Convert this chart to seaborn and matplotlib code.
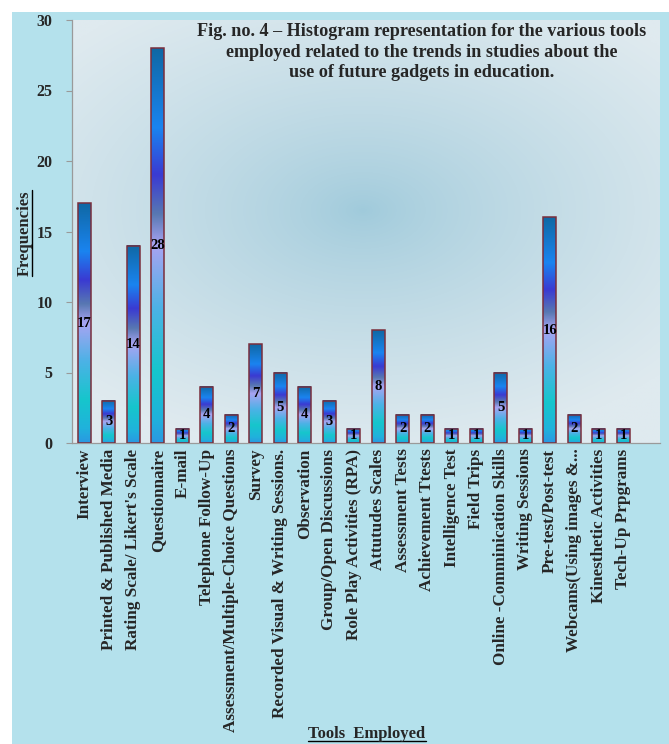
import numpy as np
import pandas as pd
import matplotlib
matplotlib.use("Agg")
import matplotlib.pyplot as plt
from matplotlib.colors import LinearSegmentedColormap, to_rgb
from matplotlib.lines import Line2D
from matplotlib.patches import Rectangle
import seaborn as sns

# ---- data -------------------------------------------------------------
tools = [
    "Interview",
    "Printed & Published Media",
    "Rating Scale/ Likert's Scale",
    "Questionnaire",
    "E-mail",
    "Telephone Follow-Up",
    "Assessment/Multiple-Choice Questions",
    "Survey",
    "Recorded Visual & Writing Sessions.",
    "Observation",
    "Group/Open Discussions",
    "Role Play Activities (RPA)",
    "Attutudes Scales",
    "Assessment Tests",
    "Achievement Ttests",
    "Intelligence Test",
    "Field Trips",
    "Online -Comminication Skills",
    "Writing Sessions",
    "Pre-test/Post-test",
    "Webcams(Using images &...",
    "Kinesthetic Activities",
    "Tech-Up Prpgrams",
]
frequencies = [17, 3, 14, 28, 1, 4, 2, 7, 5, 4, 3, 1, 8, 2, 2, 1, 1, 5, 1, 16, 2, 1, 1]
y_ticks = [0, 5, 10, 15, 20, 25, 30]

title = ("Fig. no. 4 \u2013 Histogram representation for the various tools\n"
         "employed related to the trends in studies about the\n"
         "use of future gadgets in education.")

df = pd.DataFrame({"tool": tools, "freq": frequencies})

# ---- style ------------------------------------------------------------
sns.set_style("white")
plt.rcParams["font.family"] = ["Liberation Serif", "DejaVu Serif"]
plt.rcParams["font.weight"] = "bold"

fig = plt.figure(figsize=(6.69, 7.44), dpi=100, facecolor="white")

# page backdrop behind the chart
backdrop = Rectangle((12 / 669, 0), 1 - 12 / 669, 732 / 744,
                     transform=fig.transFigure, facecolor="#b4e1ec",
                     edgecolor="none", zorder=-10)
fig.add_artist(backdrop)

ax = fig.add_axes([72 / 669, 1 - 443 / 744, 588 / 669, 423 / 744])
ax.set_zorder(1)
ax.set_facecolor("none")

# radial glow in the plot area
gy, gx = np.mgrid[0:1:300j, 0:1:300j]
r = np.sqrt(((gx - 0.495) / 1.0) ** 2 + ((gy - 0.55) / 0.85) ** 2)
t = np.clip(r / 0.68, 0, 1) ** 0.75
c_in = np.array(to_rgb("#9fcadb"))
c_out = np.array(to_rgb("#dfeaef"))
glow = c_in[None, None, :] * (1 - t[..., None]) + c_out[None, None, :] * t[..., None]
ax.imshow(glow, extent=[0, 1, 0, 1], transform=ax.transAxes, origin="lower",
          aspect="auto", zorder=0, interpolation="bilinear")

# bar outlines via seaborn
sns.barplot(data=df, x="tool", y="freq", order=tools, ax=ax, width=0.53,
            facecolor=(0, 0, 0, 0), edgecolor="#7a2e3c", linewidth=1.1,
            errorbar=None, zorder=3)

# vertical gradient fill inside each bar
bar_cmap = LinearSegmentedColormap.from_list("bar", [
    (0.00, "#2a98e2"),
    (0.06, "#20b2dc"),
    (0.18, "#16c6cc"),
    (0.34, "#4cb2e6"),
    (0.50, "#a8a4f2"),
    (0.58, "#5878b2"),
    (0.68, "#3a3ad2"),
    (0.80, "#1a84f0"),
    (1.00, "#0f68a4"),
])
grad = np.linspace(0, 1, 256)[:, None]
for patch in list(ax.patches):
    x0, y0 = patch.get_x(), patch.get_y()
    w, h = patch.get_width(), patch.get_height()
    if h <= 0:
        continue
    ax.imshow(grad, cmap=bar_cmap, extent=[x0, x0 + w, y0, y0 + h],
              origin="lower", aspect="auto", zorder=2, interpolation="bilinear")

# value labels at mid-height
for i, v in enumerate(frequencies):
    ax.text(i, v / 2, str(v), ha="center", va="center", fontsize=10.5,
            fontweight="bold", color="black", zorder=4)

ax.set_xlim(-0.5, len(tools) + 0.5)
ax.set_ylim(0, 30)
ax.set_yticks(y_ticks)
ax.set_yticklabels([str(v) for v in y_ticks], fontsize=11.5, fontweight="bold")
ax.set_xticks(range(len(tools)))
ax.set_xticklabels(tools, rotation=90, fontsize=12.3, fontweight="bold")
ax.set_xticks(np.arange(-0.5, len(tools) + 1), minor=True)
ax.tick_params(axis="x", which="major", length=0, pad=4)
ax.tick_params(axis="x", which="minor", length=5, color="#9a9a9a", width=0.8)
ax.tick_params(axis="y", length=4, color="#9a9a9a", width=0.8, pad=10, left=True)
ax.set_xlabel("")
ax.set_ylabel("")
for side in ["top", "right"]:
    ax.spines[side].set_visible(False)
for side in ["left", "bottom"]:
    ax.spines[side].set_color("#9a9a9a")
    ax.spines[side].set_linewidth(0.9)

ax.text(0.594, 0.993, title, transform=ax.transAxes, ha="center", va="top",
        fontsize=13.1, fontweight="bold", linespacing=1.28, zorder=5)

ylab = fig.text(25 / 669, 1 - 233 / 744, "Frequencies", rotation=90,
                ha="center", va="center", fontsize=12, fontweight="bold")
xlab = fig.text(367 / 669, 2 / 744, "Tools  Employed", ha="center",
                va="bottom", fontsize=12, fontweight="bold")

# underline both axis titles
fig.canvas.draw()
renderer = fig.canvas.get_renderer()
inv = fig.transFigure.inverted()
bb = xlab.get_window_extent(renderer)
(x0, y0), (x1, _) = inv.transform([(bb.x0, bb.y0 + 1), (bb.x1, bb.y0 + 1)])
fig.add_artist(Line2D([x0, x1], [y0, y0], transform=fig.transFigure,
                      color="black", linewidth=1.0))
bb = ylab.get_window_extent(renderer)
(x0, y0), (_, y1) = inv.transform([(bb.x1 - 1, bb.y0), (bb.x1 - 1, bb.y1)])
fig.add_artist(Line2D([x0, x0], [y0, y1], transform=fig.transFigure,
                      color="black", linewidth=1.0))

fig.savefig("out.png", dpi=100, facecolor=fig.get_facecolor())
